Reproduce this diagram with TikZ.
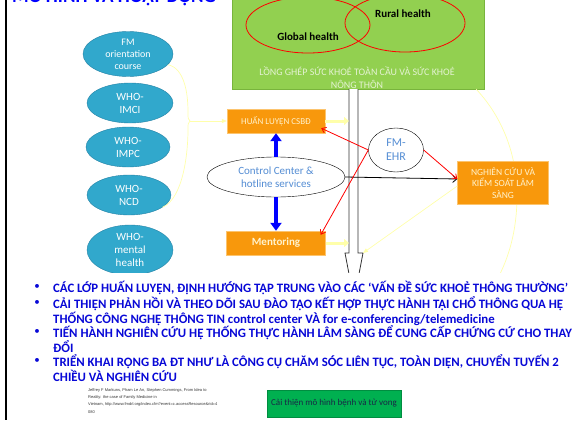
\documentclass[tikz,border=0pt]{standalone}
\usepackage{fontspec}
\setmainfont{Carlito}
\newfontfamily\reffont{Liberation Sans}
\usetikzlibrary{arrows.meta,shapes.geometric}

\definecolor{grnfill}{RGB}{146,208,80}
\definecolor{grnline}{RGB}{120,180,60}
\definecolor{grntext}{RGB}{228,242,210}
\definecolor{tealfill}{RGB}{49,168,204}
\definecolor{tealline}{RGB}{36,130,165}
\definecolor{orgfill}{RGB}{248,152,12}
\definecolor{orgline}{RGB}{252,196,110}
\definecolor{orgtext}{RGB}{255,242,204}
\definecolor{paleyel}{RGB}{255,255,170}
\definecolor{ctrlblue}{RGB}{84,141,212}
\definecolor{listblue}{RGB}{8,8,215}
\definecolor{btngreen}{RGB}{0,176,80}
\definecolor{btntext}{RGB}{25,40,70}

\begin{document}
\begin{tikzpicture}[
      x=1pt, y=-1pt,
      course/.style={ellipse, draw=tealline, fill=tealfill, text=white, align=center, inner sep=0pt, font=\fontsize{11}{13}\selectfont},
      task/.style={draw=orgline, fill=orgfill, text=orgtext, align=center, inner sep=0pt},
      hub/.style={ellipse, draw=black, fill=white, text=ctrlblue, align=center, inner sep=0pt},
      venn/.style={ellipse, draw=red, line width=0.8pt},
      listline/.style={anchor=north west, align=left, inner sep=0pt, text=listblue, font=\bfseries\fontsize{12.8}{11.8}\selectfont},
      bluearr/.style={-{Triangle[length=8pt,width=11pt]}, blue, line width=3.5pt},
      redarr/.style={-{Straight Barb[length=4pt,width=6pt]}, red, line width=0.8pt},
      feed/.style={-{Triangle[length=5pt,width=8pt]}, paleyel, line width=3pt},
      paleline/.style={paleyel, line width=0.7pt}
    ]
      \useasboundingbox (0,0) rectangle (585,420);

      % title and frame
      \node[anchor=base west, inner sep=0pt, text=blue, font=\bfseries\fontsize{19}{22}\selectfont] (title) at (12,3) {MÔ HÌNH VÀ HOẠT ĐỘNG};
      \draw[line width=2pt] (6,0) -- (6,420);

      % integration box
      \node[fill=grnfill, draw=grnline, minimum width=252pt, minimum height=97pt, inner sep=0pt] (integ) at (358,40.5) {};
      \node[venn, minimum width=124pt, minimum height=56pt] (globe) at (308,25) {};
      \node[venn, minimum width=120pt, minimum height=58pt] (rural) at (405,23) {};
      \node[font=\bfseries\fontsize{11}{13}\selectfont] (globtxt) at (308,37) {Global health};
      \node[font=\bfseries\fontsize{11}{13}\selectfont] (ruraltxt) at (403,14) {Rural health};
      \node[text=grntext, align=center, inner sep=0pt, font=\fontsize{10}{13}\selectfont] (integlbl) at (357,77.5) {LỒNG GHÉP SỨC KHOẺ TOÀN CẦU VÀ SỨC KHOẺ\\NÔNG THÔN};

      % courses
      \node[course, minimum width=90pt, minimum height=45pt, font=\fontsize{10}{12}\selectfont] (fm) at (128,54) {FM\\orientation\\course};
      \node[course, minimum width=86pt, minimum height=40pt] (imci) at (130,103) {WHO-\\IMCI};
      \node[course, minimum width=84pt, minimum height=40pt] (impc) at (128,147) {WHO-\\IMPC};
      \node[course, minimum width=84pt, minimum height=40pt] (ncd) at (129,195) {WHO-\\NCD};
      \node[course, minimum width=86pt, minimum height=50pt] (mental) at (130,250) {WHO-\\mental\\health};

      % yellow links
      \coordinate (fork) at (190,121);
      \coordinate (shaftL) at (349,89);
      \coordinate (shaftR) at (363,253);
      \draw[paleline] (fm.-15) .. controls (184,68) and (188,92) .. (188,112) .. controls (188,119) .. (fork);
      \draw[paleline] (ncd.-20) .. controls (184,198) and (188,150) .. (188,130) .. controls (188,123) .. (fork);
      \draw[paleline] ([xshift=-8pt]integ.south east) .. controls (505,120) and (518,160) .. (517,200) .. controls (516,240) and (505,268) .. (490,292);

      % big hollow arrow
      \draw[draw=black!80, fill=white, line width=0.8pt] (349,89) -- (349,253) -- (345,253) -- (354,300) -- (363,253) -- (358,253) -- (358,89);

      % centre column
      \node[task, minimum width=98pt, minimum height=24pt, font=\fontsize{9}{11}\selectfont] (huan) at (276,121) {HUẤN LUYỆN CSBĐ};
      \node[task, minimum width=99pt, minimum height=24pt, font=\bfseries\fontsize{11}{13}\selectfont] (ment) at (276,243) {Mentoring};
      \node[hub, minimum width=138pt, minimum height=40pt, font=\fontsize{11}{13}\selectfont] (ctrl) at (276,177) {Control Center \&\\hotline services};
      \node[hub, minimum width=55pt, minimum height=44pt, font=\fontsize{12}{14}\selectfont] (ehr) at (396,150) {FM-\\EHR};
      \node[task, minimum width=91pt, minimum height=43pt, font=\fontsize{9.5}{11.5}\selectfont] (nghien) at (503,183) {NGHIÊN CỨU VÀ\\KIỂM SOÁT LÂM\\SÀNG};

      \draw[paleline, -{Triangle[length=5pt,width=4pt]}] (fork) -- (huan.west);
      \draw[feed] (huan.east) -- (huan.east -| shaftL);
      \draw[feed] (ment.east) -- (ment.east -| shaftL);
      \draw[paleline, -{Triangle[length=5pt,width=4pt]}] ([yshift=-3pt]nghien.west) -- (shaftR);

      \draw[bluearr] (ctrl.north) -- (huan.south);
      \draw[bluearr] (ctrl.south) -- (ment.north);
      \draw[-{Straight Barb[length=4pt,width=7pt]}, line width=0.8pt] (ctrl.east) -- ([yshift=4pt]nghien.west);
      \draw[redarr] (ehr.west) -- ([shift={(-4pt,5pt)}]huan.south east);
      \draw[redarr] (ehr.west) -- ([shift={(-5pt,-4pt)}]ment.north east);
      \draw[redarr] (ehr.east) -- ([yshift=4pt]nghien.west);

      % bullet list
      \fill[white] (30,273) rectangle (585,384);
      \node[text=listblue, font=\fontsize{11}{13}\selectfont] (d1) at (37,287) {•};
      \node[text=listblue, font=\fontsize{11}{13}\selectfont] (d2) at (37,303) {•};
      \node[text=listblue, font=\fontsize{11}{13}\selectfont] (d3) at (37,332) {•};
      \node[text=listblue, font=\fontsize{11}{13}\selectfont] (d4) at (37,361) {•};
      \node[listline] (b1) at (53,280.5) {CÁC LỚP HUẤN LUYỆN, ĐỊNH HƯỚNG TẬP TRUNG VÀO CÁC ‘VẤN ĐỀ SỨC KHOẺ THÔNG THƯỜNG’};
      \node[listline] (b2) at (53,296.5) {CẢI THIỆN PHẢN HỒI VÀ THEO DÕI SAU ĐÀO TẠO KẾT HỢP THỰC HÀNH TẠI CHỔ THÔNG QUA HỆ\\THỐNG CÔNG NGHỆ THÔNG TIN control center VÀ for e-conferencing/telemedicine};
      \node[listline] (b3) at (53,325.5) {TIẾN HÀNH NGHIÊN CỨU HỆ THỐNG THỰC HÀNH LÂM SÀNG ĐỂ CUNG CẤP CHỨNG CỨ CHO THAY\\ĐỔI};
      \node[listline] (b4) at (53,354.5) {TRIỂN KHAI RỘNG BA ĐT NHƯ LÀ CÔNG CỤ CHĂM SÓC LIÊN TỤC, TOÀN DIỆN, CHUYỂN TUYẾN 2\\CHIỀU VÀ NGHIÊN CỨU};

      % footer
      \node[anchor=north west, align=left, inner sep=0pt, text=black!80, font=\reffont\fontsize{4}{7.3}\selectfont] (cite) at (88,388) {Jeffrey F Markuns, Pham Le An, Stephen Cummings, From Idea to\\Reality: the case of Family Medicine in\\Vietnam, http://www.fmdrl.org/index.cfm?event=c.accessResource\&rid=4\\080};
      \node[fill=btngreen, draw=btngreen!80!black, minimum width=134pt, minimum height=27pt, text=btntext, font=\fontsize{9}{11}\selectfont] (outcome) at (334,403.5) {Cải thiện mô hình bệnh và tử vong};
    \end{tikzpicture}
\end{document}
